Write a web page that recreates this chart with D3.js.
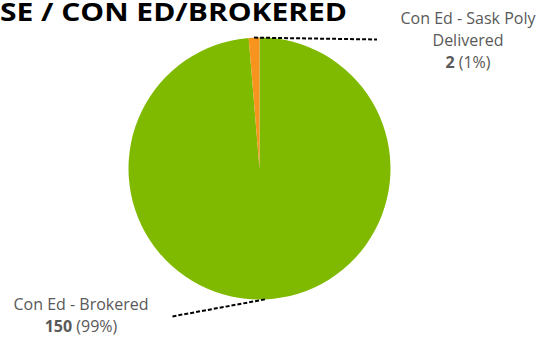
<!DOCTYPE html>
<html><head><meta charset="utf-8">
<script src="https://cdn.jsdelivr.net/npm/d3@7"></script>
<style>html,body{margin:0;padding:0;background:#fff;overflow:hidden}</style>
</head><body><svg id="c" width="544" height="338"></svg>
<script>
const title = "SE / CON ED/BROKERED";
const categories = ["Con Ed - Brokered", "Con Ed - Sask Poly Delivered"];
const values = [150, 2];
const percents = ["99%", "1%"];
const colors = ["#80ba00", "#f7941d"];

const svg = d3.select("#c");
const cx = 259.5, cy = 168.5, r = 131;
const font = "'Open Sans', 'Noto Sans', sans-serif";

svg.append("text").attr("x", 0).attr("y", 21)
  .attr("font-family", font).attr("font-weight", 700).attr("font-size", 25)
  .attr("textLength", 347).attr("lengthAdjust", "spacingAndGlyphs")
  .attr("fill", "#000").text(title);

const pie = d3.pie().sort(null).value(d => d)(values);
const arc = d3.arc().innerRadius(0).outerRadius(r);
const g = svg.append("g").attr("transform", `translate(${cx},${cy})`);
g.selectAll("path").data(pie).join("path")
  .attr("d", arc).attr("fill", (d, i) => colors[i]);

// leader lines
const labelPos = [[172, 316.5], [377, 39.5]];
pie.forEach((d, i) => {
  const a = (d.startAngle + d.endAngle) / 2;
  const x0 = cx + r * Math.sin(a), y0 = cy - r * Math.cos(a);
  svg.append("line").attr("x1", x0).attr("y1", y0)
    .attr("x2", labelPos[i][0]).attr("y2", labelPos[i][1])
    .attr("stroke", "#000").attr("stroke-width", 2).attr("stroke-dasharray", "4,2");
});

function label(x, yTop, lines, valueIdx) {
  const t = svg.append("text").attr("font-family", font).attr("font-size", 16)
    .attr("fill", "#595959").attr("text-anchor", "middle");
  lines.forEach((ln, k) => {
    t.append("tspan").attr("x", x).attr("y", yTop + k * 22).text(ln);
  });
  const last = t.append("tspan").attr("x", x).attr("y", yTop + lines.length * 22);
  last.append("tspan").attr("font-weight", 700).text(values[valueIdx]);
  last.append("tspan").text(" (" + percents[valueIdx] + ")");
}
label(81, 310, ["Con Ed - Brokered"], 0);
label(468, 24, ["Con Ed - Sask Poly", "Delivered"], 1);
</script></body></html>
